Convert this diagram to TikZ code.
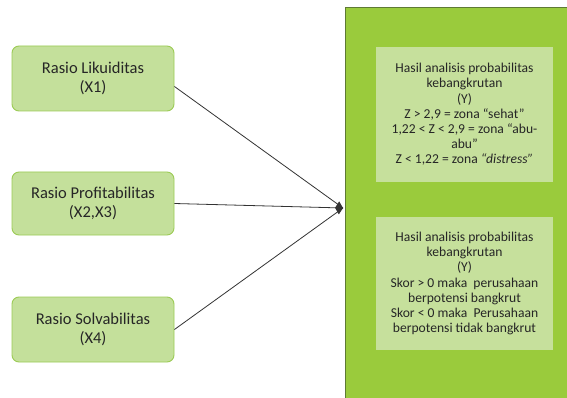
\documentclass[tikz,border=0pt]{standalone}
\usepackage{fontspec}
\setmainfont{Carlito}
\usetikzlibrary{arrows.meta}
\definecolor{bigG}{HTML}{9ACB3C}
\definecolor{bigEdge}{HTML}{5E7A34}
\definecolor{innerG}{HTML}{C6E09C}
\definecolor{boxFill}{HTML}{C4E09B}
\definecolor{boxEdge}{HTML}{9CCB55}
\definecolor{textC}{HTML}{262626}
\begin{document}
\begin{tikzpicture}[x=1pt,y=-1pt,
  leftbox/.style={draw=boxEdge, line width=0.9pt, fill=boxFill, rounded corners=7pt,
    minimum width=162pt, minimum height=65pt, align=center, inner sep=0pt,
    font=\fontsize{16.5}{19.5}\selectfont, text=textC},
  innerbox/.style={fill=innerG, minimum width=177pt, align=center, inner sep=0pt,
    font=\fontsize{13.6}{15.2}\selectfont, text=textC},
  conn/.style={draw=black!80, line width=0.8pt}]
\useasboundingbox (0,0) rectangle (567,398);
\fill[white] (0,0) rectangle (567,398);
% big green panel
\fill[bigG] (345,7) rectangle (567,398);
\draw[bigEdge, line width=0.9pt] (345,398) -- (345,7) -- (567,7);
% inner boxes
\node[innerbox, minimum height=135pt] (y1) at (464.5,114.5) {Hasil analisis probabilitas\\kebangkrutan\\(Y)\\Z > 2,9 = zona “sehat”\\1,22 < Z < 2,9 = zona “abu-\\abu”\\Z < 1,22 = zona \textit{“distress”}};
\node[innerbox, minimum height=133pt] (y2) at (464.5,283.5) {Hasil analisis probabilitas\\kebangkrutan\\(Y)\\Skor > 0 maka\ \ perusahaan\\berpotensi bangkrut\\Skor < 0 maka\ \ Perusahaan\\berpotensi tidak bangkrut};
% left boxes
\node[leftbox] (x1) at (93,78.5) {Rasio Likuiditas\\(X1)};
\node[leftbox, minimum height=63pt] (x2) at (93,203.5) {Rasio Profitabilitas\\(X2,X3)};
\node[leftbox] (x3) at (93,329.5) {Rasio Solvabilitas\\(X4)};
% connectors
\coordinate (tip) at (343,208);
\draw[conn] ([yshift=-8pt]x1.east) -- (tip);
\draw[conn] (x3.east) -- (tip);
\draw[conn, -{Diamond[length=8pt,width=13pt]}] (x2.east) -- (tip);
\end{tikzpicture}
\end{document}
